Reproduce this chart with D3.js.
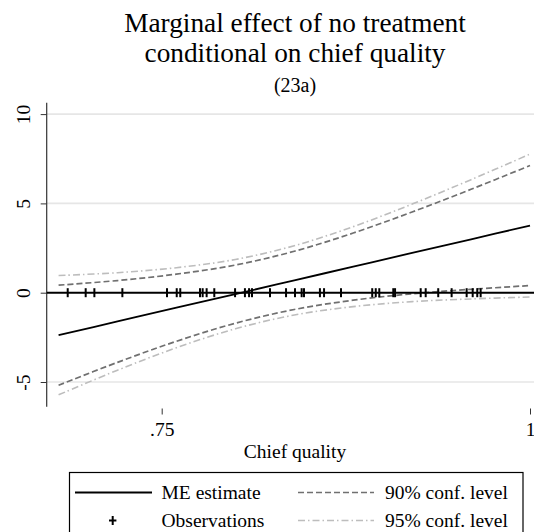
<!DOCTYPE html>
<html>
<head>
<meta charset="utf-8">
<script src="https://cdn.jsdelivr.net/npm/d3@7"></script>
<style>
  html, body { margin: 0; padding: 0; background: #fff; }
  svg { display: block; }
</style>
</head>
<body>
<script>
// Evaluation points of chief quality
const qualityGrid = [0.68, 0.72, 0.76, 0.80, 0.84, 0.88, 0.92, 0.96, 1.00];
// Marginal effect estimate
const meEstimate = [-2.38, -1.61, -0.84, -0.08, 0.69, 1.46, 2.23, 2.99, 3.76];
// 90% confidence bounds
const ci90Upper = [0.42, 0.68, 1.04, 1.55, 2.32, 3.34, 4.52, 5.79, 7.12];
const ci90Lower = [-5.18, -3.90, -2.72, -1.71, -0.94, -0.42, -0.06, 0.19, 0.40];
// 95% confidence bounds
const ci95Upper = [0.96, 1.12, 1.40, 1.86, 2.63, 3.70, 4.96, 6.33, 7.76];
const ci95Lower = [-5.72, -4.34, -3.08, -2.02, -1.25, -0.78, -0.50, -0.35, -0.24];
// Observed chief quality values (rug)
const observations = [0.6862, 0.6984, 0.7043, 0.7233, 0.7536, 0.7602, 0.7626, 0.776, 0.7778,
  0.7805, 0.7857, 0.7998, 0.8065, 0.8093, 0.8113, 0.8235, 0.8344, 0.8405, 0.845, 0.8466,
  0.8574, 0.8602, 0.8717, 0.8929, 0.8953, 0.8977, 0.9072, 0.9084, 0.9258, 0.9292, 0.9377,
  0.9468, 0.957, 0.9611, 0.9642, 0.9665];
// Axis ticks
const yTicks = [-5, 0, 5, 10];
const yTickLabels = ["-5", "0", "5", "10"];
const xTicks = [0.75, 1];
const xTickLabels = [".75", "1"];
const titleLines = ["Marginal effect of no treatment", "conditional on chief quality"];
const subtitle = "(23a)";
const xTitle = "Chief quality";
const legendLabels = ["ME estimate", "90% conf. level", "Observations", "95% conf. level"];

const FONT = "Liberation Serif, Times New Roman, serif";
const LABEL_SIZE = 19.5;
const W = 534, H = 532;
const svg = d3.select("body").append("svg").attr("width", W).attr("height", H);

const x = d3.scaleLinear().domain([0.75, 1]).range([161.7, 530]);
const y = d3.scaleLinear().domain([0, 5]).range([292.7, 203.4]);

const axisX = 46.7;
const plotRight = W;
const plotTop = 102.7, plotBottom = 406.7;

function serif(sel, size) {
  return sel.attr("font-family", FONT).attr("font-size", size).attr("fill", "#000");
}

// Title block
serif(svg.append("g").selectAll("text").data(titleLines).join("text")
  .attr("x", 295).attr("y", (d, i) => 31.5 + i * 30)
  .attr("text-anchor", "middle").text(d => d), 27.3);
serif(svg.append("text").attr("x", 295).attr("y", 92).attr("text-anchor", "middle")
  .text(subtitle), 20);

// Horizontal grid lines
svg.append("g").selectAll("line").data(yTicks.filter(d => d !== 0)).join("line")
  .attr("x1", axisX).attr("x2", plotRight)
  .attr("y1", d => y(d)).attr("y2", d => y(d))
  .attr("stroke", "#e6e6e6").attr("stroke-width", 1.6);

// Y axis
const yAxis = d3.axisLeft(y).tickValues(yTicks)
  .tickFormat((d, i) => yTickLabels[i]).tickSize(6).tickSizeOuter(0);
const gy = svg.append("g").attr("transform", `translate(${axisX},0)`).call(yAxis)
  .attr("font-family", FONT).attr("font-size", LABEL_SIZE);
gy.select(".domain").remove();
gy.append("line").attr("x1", 0).attr("x2", 0).attr("y1", plotTop).attr("y2", plotBottom)
  .attr("stroke", "#333").attr("stroke-width", 1.2);
gy.selectAll(".tick line").attr("stroke", "#333").attr("stroke-width", 1);
gy.selectAll(".tick text").attr("fill", "#000")
  .attr("x", null).attr("dy", null).attr("y", 0)
  .attr("transform", "translate(-17,0) rotate(-90)")
  .attr("text-anchor", "middle");

// X axis (ticks only)
const xAxis = d3.axisBottom(x).tickValues(xTicks)
  .tickFormat((d, i) => xTickLabels[i]).tickSize(6).tickSizeOuter(0);
const gx = svg.append("g").attr("transform", `translate(0,${408.5})`).call(xAxis)
  .attr("font-family", FONT).attr("font-size", LABEL_SIZE);
gx.select(".domain").remove();
gx.selectAll(".tick line").attr("stroke", "#333").attr("stroke-width", 1);
gx.selectAll(".tick text").attr("fill", "#000").attr("y", 14).attr("dy", "0.71em");

serif(svg.append("text").attr("x", 295).attr("y", 458).attr("text-anchor", "middle")
  .text(xTitle), LABEL_SIZE);

// Confidence bands and estimate
const rows = qualityGrid.map((q, i) => ({
  q, me: meEstimate[i], u90: ci90Upper[i], l90: ci90Lower[i], u95: ci95Upper[i], l95: ci95Lower[i]
}));
const lineFor = key => d3.line().x(d => x(d.q)).y(d => y(d[key])).curve(d3.curveCatmullRom);

const series = [
  { key: "u95", color: "#bdbdbd", dash: "7,3,1.5,3", width: 1.6 },
  { key: "l95", color: "#bdbdbd", dash: "7,3,1.5,3", width: 1.6 },
  { key: "u90", color: "#707070", dash: "6,3", width: 1.7 },
  { key: "l90", color: "#707070", dash: "6,3", width: 1.7 },
];
svg.append("g").selectAll("path").data(series).join("path")
  .attr("d", s => lineFor(s.key)(rows))
  .attr("fill", "none").attr("stroke", s => s.color)
  .attr("stroke-width", s => s.width).attr("stroke-dasharray", s => s.dash);

// Zero reference line
svg.append("line").attr("x1", axisX).attr("x2", plotRight)
  .attr("y1", y(0)).attr("y2", y(0)).attr("stroke", "#000").attr("stroke-width", 2);

svg.append("path").attr("d", lineFor("me")(rows))
  .attr("fill", "none").attr("stroke", "#000").attr("stroke-width", 1.8);

// Observation markers along zero
svg.append("g").selectAll("line").data(observations).join("line")
  .attr("x1", d => x(d)).attr("x2", d => x(d))
  .attr("y1", y(0) - 4.5).attr("y2", y(0) + 4.5)
  .attr("stroke", "#000").attr("stroke-width", 2);

// Legend
const lg = svg.append("g");
lg.append("rect").attr("x", 69.5).attr("y", 472.5).attr("width", 453.5).attr("height", 80)
  .attr("fill", "#fff").attr("stroke", "#000").attr("stroke-width", 1.2);
const row1 = 492.5, row2 = 520.5;
lg.append("line").attr("x1", 75).attr("x2", 152).attr("y1", row1).attr("y2", row1)
  .attr("stroke", "#000").attr("stroke-width", 1.8);
lg.append("line").attr("x1", 298).attr("x2", 374).attr("y1", row1).attr("y2", row1)
  .attr("stroke", "#707070").attr("stroke-width", 1.7).attr("stroke-dasharray", "6,3");
lg.append("line").attr("x1", 298).attr("x2", 374).attr("y1", row2).attr("y2", row2)
  .attr("stroke", "#bdbdbd").attr("stroke-width", 1.6).attr("stroke-dasharray", "7,3,1.5,3");
lg.append("line").attr("x1", 112.7).attr("x2", 112.7).attr("y1", row2 - 4.5).attr("y2", row2 + 4.5)
  .attr("stroke", "#000").attr("stroke-width", 2);
lg.append("line").attr("x1", 109).attr("x2", 116.4).attr("y1", row2).attr("y2", row2)
  .attr("stroke", "#000").attr("stroke-width", 2);
const legendPos = [[161.5, row1], [385, row1], [161.5, row2], [385, row2]];
serif(lg.selectAll("text.lbl").data(legendLabels).join("text").attr("class", "lbl")
  .attr("x", (d, i) => legendPos[i][0]).attr("y", (d, i) => legendPos[i][1] + 6)
  .text(d => d), LABEL_SIZE);
</script>
</body>
</html>
